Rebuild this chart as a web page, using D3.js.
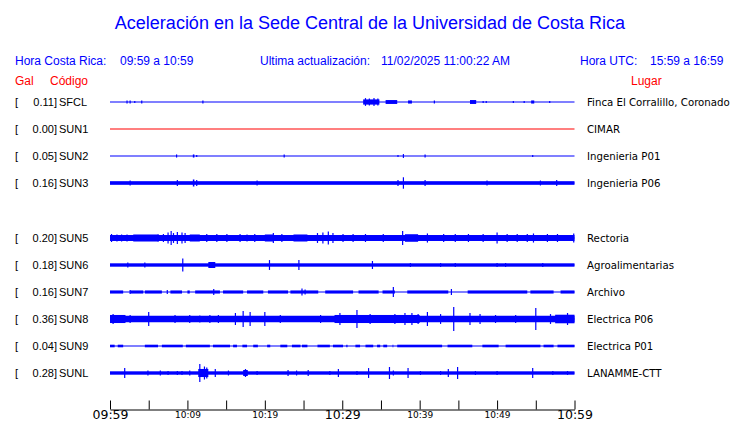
<!DOCTYPE html>
<html>
<head>
<meta charset="utf-8">
<script src="https://cdn.jsdelivr.net/npm/d3@7"></script>
<style>
  body { margin: 0; background: #fff; }
  text { font-family: "Liberation Sans", Arial, sans-serif; }
</style>
</head>
<body>
<svg id="chart" width="740" height="423"></svg>
<script>
// rows (SUN4 slot is left empty)
var rowSlots = ["SFCL", "SUN1", "SUN2", "SUN3", "SUN4", "SUN5", "SUN6", "SUN7", "SUN8", "SUN9", "SUNL"];
var codes = ["SFCL", "SUN1", "SUN2", "SUN3", "SUN5", "SUN6", "SUN7", "SUN8", "SUN9", "SUNL"];
var gal = ["0.11", "0.00", "0.05", "0.16", "0.20", "0.18", "0.16", "0.36", "0.04", "0.28"];
var places = ["Finca El Corralillo, Coronado", "CIMAR", "Ingenieria P01", "Ingenieria P06", "Rectoria",
    "Agroalimentarias", "Archivo", "Electrica P06", "Electrica P01", "LANAMME-CTT"];
var dead = ["SUN1"];

// background noise level per station (counts)
var baseAmp = [0, 0, 0, 14, 23, 13, 12, 25, 10, 13];

// quiet stretches [from min, to min] where trace drops to a thin line
var quiet = {
    SUN7: [[1.7, 2.6], [4.3, 4.5], [6.7, 7.8], [9.3, 10.0], [10.3, 11.0], [14.2, 14.6], [17.2, 17.7],
        [19.8, 20.4], [23.0, 23.3], [26.9, 27.8], [31.4, 32.1], [34.7, 35.2], [36.8, 38.4],
        [43.7, 46.2], [53.9, 54.3], [57.3, 58.2]],
    SUN9: [[0.6, 1.0], [1.7, 4.5], [6.2, 6.7], [9.4, 9.8], [12.9, 13.3], [15.5, 15.9], [16.4, 17.1],
        [17.7, 18.5], [19.1, 20.3], [20.7, 22.0], [22.9, 23.5], [24.6, 24.8], [25.5, 26.8],
        [28.4, 28.8], [30.1, 31.7], [32.3, 33.0], [34.0, 34.5], [34.9, 35.3], [35.8, 36.5],
        [36.6, 37.1], [42.9, 43.6], [46.8, 48.1], [50.2, 51.1], [55.6, 56.0], [57.3, 57.8]]
};

// stretches of stronger shaking [from min, to min, counts]
var bursts = {
    SFCL: [[32.7, 34.8, 20], [35.6, 37.1, 15], [38.5, 39.0, 12], [46.5, 47.3, 15], [54.4, 54.8, 12]],
    SUN2: [[10.7, 10.9, 12]],
    SUN3: [[10.7, 10.9, 27]],
    SUN5: [[3.0, 6.1, 27], [10.3, 11.6, 27], [20.0, 21.1, 27], [23.7, 25.5, 27], [38.1, 39.8, 29]],
    SUN6: [[12.7, 13.6, 23]],
    SUN8: [[0, 2.0, 31], [29.0, 40.0, 31], [57.5, 60, 33]],
    SUNL: [[11.4, 12.7, 31], [17.2, 17.8, 23]]
};

// single peaks [min, counts]
var peaks = {
    SFCL: [[2.2, 12], [2.6, 12], [3.2, 8], [4.1, 12], [12.0, 12], [33.0, 30], [33.5, 27], [34.1, 30],
        [34.6, 27], [41.9, 12], [48.2, 8], [48.6, 8], [52.1, 8], [53.5, 8], [56.8, 8]],
    SUN1: [],
    SUN2: [[8.6, 12], [11.2, 8], [22.5, 12], [37.2, 8], [37.9, 15], [40.7, 12], [54.6, 8]],
    SUN3: [[2.6, 19], [8.7, 23], [11.2, 23], [19.0, 19], [37.2, 23], [37.9, 44], [40.7, 23],
        [48.7, 19], [55.6, 19], [57.7, 23]],
    SUN5: [[0.2, 31], [0.9, 27], [1.5, 27], [2.2, 27], [6.2, 31], [6.9, 31], [7.5, 42], [7.9, 54],
        [8.2, 38], [8.7, 46], [9.3, 42], [9.7, 38], [12.5, 31], [13.8, 31], [15.1, 31], [16.8, 31],
        [17.7, 27], [18.7, 31], [21.1, 38], [22.2, 31], [26.8, 38], [27.5, 42], [28.2, 50],
        [28.8, 38], [30.1, 31], [31.4, 31], [33.0, 31], [35.3, 31], [37.8, 54], [41.0, 35],
        [43.1, 31], [44.6, 31], [46.3, 31], [48.2, 31], [50.0, 42], [51.3, 31], [52.6, 31],
        [53.9, 31], [54.7, 35], [56.5, 31], [57.8, 31], [59.9, 35]],
    SUN6: [[2.3, 19], [4.5, 19], [9.4, 50], [20.6, 38], [24.4, 38], [33.9, 31], [38.8, 15],
        [42.7, 15], [44.6, 15], [50.0, 15], [51.1, 15], [55.9, 15]],
    SUN7: [[2.6, 15], [7.4, 15], [13.4, 23], [24.8, 27], [25.2, 19], [36.6, 38], [44.1, 23]],
    SUN8: [[0.4, 38], [1.3, 23], [2.6, 31], [5.0, 54], [6.5, 23], [8.4, 31], [10.3, 31], [11.6, 27],
        [12.9, 31], [14.0, 31], [16.2, 46], [17.2, 62], [18.1, 54], [20.0, 54], [22.0, 31],
        [24.6, 23], [27.2, 31], [29.7, 46], [31.9, 69], [33.6, 38], [35.8, 31], [36.8, 38],
        [38.1, 46], [39.0, 46], [39.8, 38], [41.0, 54], [42.7, 38], [44.4, 92], [46.5, 46],
        [47.8, 38], [49.8, 31], [52.4, 31], [55.0, 85], [56.9, 38], [59.1, 46]],
    SUN9: [[30.6, 10]],
    SUNL: [[1.9, 38], [4.9, 19], [6.5, 19], [7.5, 15], [8.7, 15], [9.3, 15], [10.3, 19], [11.6, 69],
        [12.2, 50], [12.5, 42], [13.6, 31], [15.3, 19], [17.5, 31], [19.0, 15], [23.0, 23],
        [24.1, 19], [25.6, 23], [28.4, 15], [29.5, 31], [31.9, 15], [33.4, 38], [36.1, 46],
        [36.6, 19], [38.5, 38], [40.1, 15], [42.7, 15], [43.7, 31], [44.9, 46], [47.2, 15],
        [50.0, 15], [54.6, 38], [57.2, 15], [59.1, 15]]
};

var BLUE = "#0000ff", RED = "#ff0000";
var t0 = new Date(2025, 1, 11, 9, 59);
var t1 = new Date(2025, 1, 11, 10, 59);
function at(m) { return new Date(t0.getTime() + m * 60000); }

var svg = d3.select("#chart");
var x = d3.scaleTime().domain([t0, t1]).range([110, 574.5]);
var y = d3.scalePoint().domain(rowSlots).range([102, 373]);
var amp = d3.scaleLinear().domain([0, 100]).range([0, 13]);

// header
svg.append("text").attr("x", 370).attr("y", 29).attr("text-anchor", "middle")
    .attr("font-size", 18).attr("fill", BLUE)
    .text("Aceleración en la Sede Central de la Universidad de Costa Rica");

var header = [[15, "Hora Costa Rica:"], [120, "09:59 a 10:59"], [260, "Ultima actualización:"],
    [381, "11/02/2025 11:00:22 AM"], [580, "Hora UTC:"], [650, "15:59 a 16:59"]];
svg.selectAll("text.hdr").data(header).enter().append("text").attr("class", "hdr")
    .attr("x", function(d) { return d[0]; }).attr("y", 65)
    .attr("font-size", 12).attr("fill", BLUE).text(function(d) { return d[1]; });

var sub = [[15, "Gal"], [50, "Código"], [631, "Lugar"]];
svg.selectAll("text.sub").data(sub).enter().append("text").attr("class", "sub")
    .attr("x", function(d) { return d[0]; }).attr("y", 85)
    .attr("font-size", 12).attr("fill", RED).text(function(d) { return d[1]; });

// traces
codes.forEach(function(code, i) {
    var cy = Math.round(y(code));
    var col = dead.indexOf(code) >= 0 ? RED : BLUE;
    var g = svg.append("g").attr("fill", col).attr("stroke", col);

    g.append("line").attr("x1", x(t0)).attr("x2", x(t1)).attr("y1", cy).attr("y2", cy)
        .attr("stroke", col).attr("stroke-width", 1.2);

    // noise band split by quiet stretches
    if (baseAmp[i] > 0) {
        var segs = [], start = 0;
        (quiet[code] || []).forEach(function(q) { segs.push([start, q[0]]); start = q[1]; });
        segs.push([start, 60]);
        g.selectAll("rect.band").data(segs).enter().append("rect").attr("class", "band")
            .attr("stroke", "none")
            .attr("x", function(d) { return x(at(d[0])); })
            .attr("width", function(d) { return x(at(d[1])) - x(at(d[0])); })
            .attr("y", cy - amp(baseAmp[i])).attr("height", 2 * amp(baseAmp[i]));
    }

    g.selectAll("rect.burst").data(bursts[code] || []).enter().append("rect").attr("class", "burst")
        .attr("stroke", "none")
        .attr("x", function(d) { return x(at(d[0])); })
        .attr("width", function(d) { return Math.max(1.5, x(at(d[1])) - x(at(d[0]))); })
        .attr("y", function(d) { return cy - amp(d[2]); })
        .attr("height", function(d) { return 2 * amp(d[2]); });

    g.selectAll("line.pk").data(peaks[code]).enter().append("line").attr("class", "pk")
        .attr("stroke-width", 1.2)
        .attr("x1", function(d) { return x(at(d[0])); }).attr("x2", function(d) { return x(at(d[0])); })
        .attr("y1", function(d) { return cy - amp(d[1]); })
        .attr("y2", function(d) { return cy + amp(d[1]); });

    // labels
    var ly = y(code) + 4;
    svg.append("text").attr("x", 15).attr("y", ly).attr("font-size", 11).text("[");
    svg.append("text").attr("x", 57).attr("y", ly).attr("font-size", 11)
        .attr("text-anchor", "end").text(gal[i] + "]");
    svg.append("text").attr("x", 59).attr("y", ly).attr("font-size", 11).text(code);
    svg.append("text").attr("x", 587).attr("y", ly).attr("font-size", 10.2)
        .style("font-family", "'DejaVu Sans', sans-serif").text(places[i]);
});

// time axis
var tickTimes = d3.range(0, 61, 5).map(at);
var axis = d3.axisBottom(x).tickValues(tickTimes).tickSizeInner(-9).tickSizeOuter(0)
    .tickPadding(1)
    .tickFormat(function(d, i) { return i % 2 === 0 ? d3.timeFormat("%H:%M")(d) : ""; });
var ax = svg.append("g").attr("transform", "translate(0,409.5)").call(axis);
ax.select(".domain").attr("stroke", "#000");
ax.selectAll(".tick line").attr("stroke", "#000");
ax.selectAll(".tick text")
    .attr("fill", "#000")
    .style("font-family", "'DejaVu Sans', sans-serif")
    .attr("font-size", function(d, i) { return i % 6 === 0 ? 12.5 : 9; })
    .attr("dy", function(d, i) { return i % 6 === 0 ? "0.68em" : "0.8em"; });
</script>
</body>
</html>
